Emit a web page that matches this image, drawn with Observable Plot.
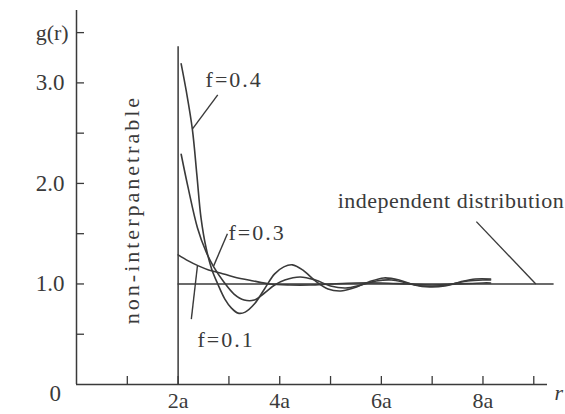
<!DOCTYPE html>
<html><head><meta charset="utf-8">
<script src="https://cdn.jsdelivr.net/npm/d3@7"></script>
<script src="https://cdn.jsdelivr.net/npm/@observablehq/plot@0.6"></script>
<style>
html,body{margin:0;padding:0;background:#fff;}
#chart svg{display:block;}
</style>
</head><body><div id="chart"></div>
<script>
// r in units of a, g(r) values
const r04 = [2.06, 2.16, 2.28, 2.37, 2.45, 2.55, 2.66, 2.78, 2.92, 3.05, 3.18, 3.32, 3.5, 3.7, 3.9, 4.08, 4.25, 4.45, 4.7, 4.95, 5.2, 5.45, 5.75, 6.05, 6.35, 6.65, 6.95, 7.25, 7.55, 7.85, 8.15];
const g04 = [3.19, 2.92, 2.54, 2.08, 1.66, 1.36, 1.15, 1.0, 0.85, 0.76, 0.71, 0.72, 0.8, 0.95, 1.1, 1.17, 1.19, 1.14, 1.03, 0.95, 0.93, 0.96, 1.02, 1.06, 1.04, 0.99, 0.97, 0.98, 1.02, 1.05, 1.05];
const r03 = [2.06, 2.2, 2.38, 2.55, 2.7, 2.9, 3.1, 3.3, 3.5, 3.7, 3.9, 4.1, 4.4, 4.7, 5.0, 5.3, 5.6, 5.9, 6.2, 6.5, 6.8, 7.1, 7.4, 7.7, 8.0, 8.15];
const g03 = [2.29, 1.95, 1.56, 1.32, 1.17, 1.02, 0.9, 0.84, 0.84, 0.91, 0.99, 1.04, 1.07, 1.04, 0.98, 0.96, 0.99, 1.03, 1.04, 1.01, 0.98, 0.98, 1.0, 1.03, 1.04, 1.04];
const r01 = [2.0, 2.2, 2.4, 2.6, 2.83, 3.1, 3.48, 3.8, 4.2, 4.6, 5.0, 5.5, 6.0, 6.5, 7.0, 7.5, 8.0, 8.15];
const g01 = [1.29, 1.23, 1.18, 1.14, 1.11, 1.07, 1.03, 1.0, 0.99, 0.99, 1.0, 1.01, 1.01, 1.0, 0.99, 1.0, 1.01, 1.01];

const xTicks = [2, 4, 6, 8];
const xTickLabels = ["2a", "4a", "6a", "8a"];
const xMinorTicks = [1, 2, 3, 4, 5, 6, 7, 8, 9];
const yTicks = [1, 2, 3];
const yTickLabels = ["1.0", "2.0", "3.0"];
const yMinorTicks = [0.5, 1, 1.5, 2, 2.5, 3, 3.5];

// annotation labels and leader lines (data coordinates)
const curveLabels = [
  {text: "f=0.4", r: 2.54, g: 3.03},
  {text: "f=0.3", r: 2.99, g: 1.51},
  {text: "f=0.1", r: 2.38, g: 0.44}
];
const leaders = [
  {r1: 2.78, g1: 2.88, r2: 2.28, g2: 2.54},
  {r1: 2.97, g1: 1.50, r2: 2.70, g2: 1.18},
  {r1: 2.26, g1: 0.65, r2: 2.38, g2: 1.18},
  {r1: 7.87, g1: 1.62, r2: 9.04, g2: 1.0}
];

const series = (r, g) => r.map((x, i) => ({r: x, g: g[i]}));
const ink = "#3a3a3a";
const serif = "'Liberation Serif', 'DejaVu Serif', serif";

const plot = Plot.plot({
  width: 565,
  height: 414,
  marginLeft: 76,
  marginRight: 18,
  marginTop: 10,
  marginBottom: 30,
  style: {fontFamily: serif, color: ink, background: "#fff", overflow: "visible"},
  x: {domain: [0, 9.27], axis: null},
  y: {domain: [0, 3.72], axis: null},
  marks: [
    // axes lines
    Plot.ruleY([0], {stroke: ink, strokeWidth: 1.5}),
    Plot.ruleX([0], {stroke: ink, strokeWidth: 1.5}),
    // inward ticks
    Plot.axisX({ticks: xMinorTicks, tickSize: -8, tickFormat: () => "", stroke: ink, strokeWidth: 1.3}),
    Plot.axisY({ticks: yMinorTicks, tickSize: -8, tickFormat: () => "", stroke: ink, strokeWidth: 1.3}),
    // tick labels
    Plot.axisX({ticks: xTicks, tickSize: 0, tickPadding: 8, tickFormat: (d, i) => xTickLabels[i], fontSize: 22, fill: ink}),
    Plot.axisY({ticks: yTicks, tickSize: 0, tickPadding: 12, tickFormat: (d, i) => yTickLabels[i], fontSize: 23, fill: ink}),
    Plot.text(["0"], {x: -0.42, y: -0.09, text: d => d, fontSize: 23, fill: ink}),
    Plot.text(["g(r)"], {x: -0.48, y: 3.5, text: d => d, fontSize: 22, fill: ink}),
    Plot.text(["r"], {x: 9.49, y: -0.08, text: d => d, fontSize: 22, fontStyle: "italic", fill: ink}),
    // hard-core wall and independent distribution line
    Plot.ruleX([2], {y1: 0, y2: 3.36, stroke: ink, strokeWidth: 1.5}),
    Plot.ruleY([1], {x1: 2, x2: 9.4, stroke: ink, strokeWidth: 1.5}),
    // g(r) curves
    Plot.line(series(r01, g01), {x: "r", y: "g", curve: "catmull-rom", stroke: ink, strokeWidth: 1.6}),
    Plot.line(series(r03, g03), {x: "r", y: "g", curve: "catmull-rom", stroke: ink, strokeWidth: 1.6}),
    Plot.line(series(r04, g04), {x: "r", y: "g", curve: "catmull-rom", stroke: ink, strokeWidth: 1.6}),
    // leaders
    Plot.link(leaders, {x1: "r1", y1: "g1", x2: "r2", y2: "g2", stroke: ink, strokeWidth: 1.4}),
    // labels
    Plot.text(curveLabels, {x: "r", y: "g", text: "text", textAnchor: "start", fontSize: 22, fill: ink}),
    Plot.text(["independent distribution"], {x: 5.14, y: 1.83, text: d => d, textAnchor: "start", fontSize: 22, fill: ink}),
    Plot.text(["non-interpanetrable"], {x: 1.1, y: 1.74, text: d => d, rotate: -90, fontSize: 22, fill: ink})
  ]
});
document.getElementById("chart").appendChild(plot);
// typeset spacing of the scanned labels
plot.querySelectorAll("text").forEach(t => {
  const s = t.textContent;
  if (/^f=/.test(s)) t.style.letterSpacing = "2px";
  if (s === "independent distribution") t.style.letterSpacing = "0.5px";
  if (s === "non-interpanetrable") t.style.letterSpacing = "3px";
});
</script>
</body></html>
